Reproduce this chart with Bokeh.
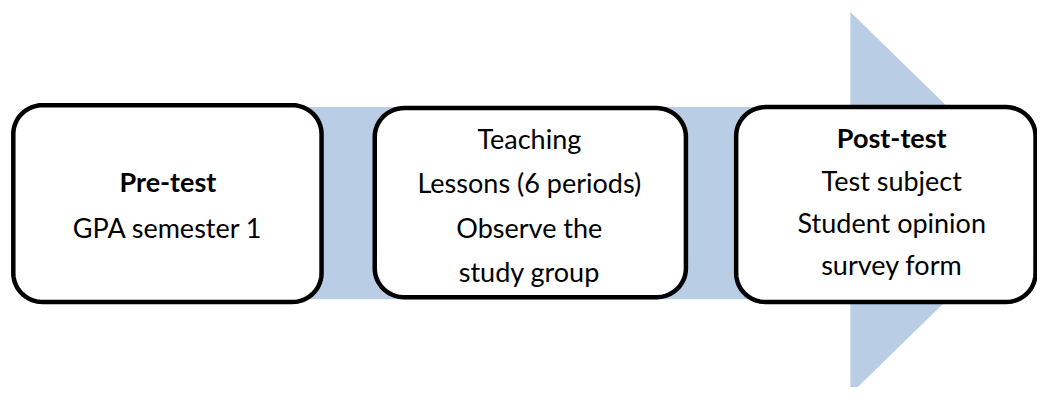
import numpy as np
from bokeh.plotting import figure
from bokeh.models import Range1d, ColumnDataSource
from bokeh.core.properties import value
from bokeh.embed import file_html
from bokeh.resources import INLINE

# ---- content ----
step_titles = ["Pre-test", "Teaching", "Post-test"]
step_title_bold = [True, False, True]
step_details = [
    ["GPA semester 1"],
    ["Lessons (6 periods)", "Observe the", "study group"],
    ["Test subject", "Student opinion", "survey form"],
]

# ---- layout (reference pixel space, y downward) ----
W, H = 1053, 403
box_x0 = [13, 380, 747]
box_x1 = [326, 696, 1051]
box_y0 = [109, 112, 111]
box_y1 = [314, 309, 314]
text_cx = [170, 537, 905]
text_cy = [212, 213, 209]
line_gap = [48, 46, 44]
radius = 30

arrow_color = "#B9CDE5"

p = figure(width=1037, height=387, output_backend="svg", toolbar_location=None,
           x_range=Range1d(0, W), y_range=Range1d(H, 0), min_border=0)
p.axis.visible = False
p.grid.visible = False
p.outline_line_color = None
p.background_fill_color = "white"

# block arrow
band_top, band_bot = 111, 311
band_x0, head_x = 60, 863
mid = (band_top + band_bot) / 2
half = mid - 12
ax = [band_x0, head_x, head_x, head_x + half, head_x, head_x, band_x0]
ay = [band_top, band_top, mid - half, mid, mid + half, band_bot, band_bot]
p.patch(ax, ay, fill_color=arrow_color, line_color=None)

def rounded(x0, y0, x1, y1, r, n=16):
    xs, ys = [], []
    corners = [(x1 - r, y0 + r, -np.pi / 2, 0), (x1 - r, y1 - r, 0, np.pi / 2),
               (x0 + r, y1 - r, np.pi / 2, np.pi), (x0 + r, y0 + r, np.pi, 1.5 * np.pi)]
    for cx, cy, a0, a1 in corners:
        t = np.linspace(a0, a1, n)
        xs.extend(cx + r * np.cos(t))
        ys.extend(cy + r * np.sin(t))
    return xs, ys

bx, by = [], []
for i in range(3):
    xs, ys = rounded(box_x0[i], box_y0[i], box_x1[i], box_y1[i], radius)
    bx.append(xs)
    by.append(ys)
p.patches(bx, by, fill_color="white", line_color="black", line_width=4.5)

# texts
tx, ty, tt, tw = [], [], [], []
for i in range(3):
    lines = [step_titles[i]] + step_details[i]
    n = len(lines)
    for j, s in enumerate(lines):
        tx.append(text_cx[i])
        ty.append(text_cy[i] + (j - (n - 1) / 2) * line_gap[i])
        tt.append(s)
        tw.append("bold" if (j == 0 and step_title_bold[i]) else "normal")

src = ColumnDataSource(dict(x=tx, y=ty, t=tt, w=tw))
p.text(x="x", y="y", text="t", source=src, text_align="center", text_baseline="middle",
       text_font=value("Lato"), text_font_size="27px", text_font_style="w",
       text_color="black")

open("out.html", "w").write(file_html(p, INLINE))
